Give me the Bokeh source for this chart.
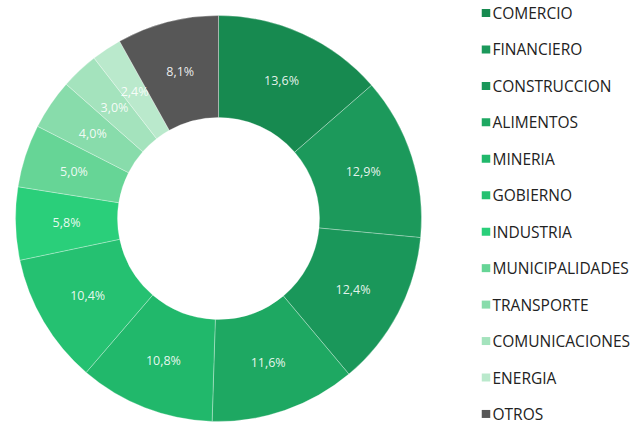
import math
from bokeh.plotting import figure
from bokeh.models import Range1d, ColumnDataSource
from bokeh.core.properties import value
from bokeh.embed import file_html
from bokeh.resources import INLINE

sectors = ["COMERCIO", "FINANCIERO", "CONSTRUCCION", "ALIMENTOS", "MINERIA", "GOBIERNO",
           "INDUSTRIA", "MUNICIPALIDADES", "TRANSPORTE", "COMUNICACIONES", "ENERGIA", "OTROS"]
shares = [13.6, 12.9, 12.4, 11.6, 10.8, 10.4, 5.8, 5.0, 4.0, 3.0, 2.4, 8.1]
colors = ["#178A50", "#1C995B", "#1A975A", "#1EA862", "#21B86B", "#25C171",
          "#2ACF7A", "#66D596", "#88DCAB", "#A4E3BD", "#BAE9CC", "#575757"]
labels = [f"{v:.1f}".replace(".", ",") + "%" for v in shares]

W, H = 632, 424
FONT = "Open Sans"

p = figure(width=W, height=H, output_backend="svg", toolbar_location=None,
           x_range=Range1d(0, W), y_range=Range1d(0, H),
           x_axis_type=None, y_axis_type=None, min_border=0,
           background_fill_color="white", border_fill_color="white")
p.outline_line_color = None
p.grid.visible = False

cx, cy = 218, H - 218
r_out, r_in = 203, 101
total = sum(shares)
starts, ends, lx, ly = [], [], [], []
cum = 0.0
for v in shares:
    a0 = math.pi / 2 - 2 * math.pi * cum / total
    cum += v
    a1 = math.pi / 2 - 2 * math.pi * cum / total
    starts.append(a0)
    ends.append(a1)
    mid = (a0 + a1) / 2
    rm = (r_out + r_in) / 2
    lx.append(cx + rm * math.cos(mid))
    ly.append(cy + rm * math.sin(mid))

src = ColumnDataSource(dict(start=starts, end=ends, color=colors, lx=lx, ly=ly, label=labels))
p.annular_wedge(x=cx, y=cy, inner_radius=r_in, outer_radius=r_out,
                start_angle="start", end_angle="end", direction="clock",
                fill_color="color", line_color="white", line_width=0.6, line_alpha=0.5,
                source=src)
p.text(x="lx", y="ly", text="label", source=src, text_align="center",
       text_baseline="middle", text_color="white", text_alpha=0.9,
       text_font=value(FONT), text_font_size="12.5px")

# legend
top_y = H - 12.5
step = 36.45
leg_y = [top_y - i * step for i in range(len(sectors))]
leg_src = ColumnDataSource(dict(y=leg_y, name=sectors, color=colors))
p.rect(x=485.5, y="y", width=8.5, height=8, fill_color="color", line_color=None, source=leg_src)
p.text(x=492, y="y", text="name", source=leg_src, text_align="left",
       text_baseline="middle", text_color="#222222",
       text_font=value(FONT), text_font_size="15.5px")

open("out.html", "w").write(file_html(p, INLINE))
